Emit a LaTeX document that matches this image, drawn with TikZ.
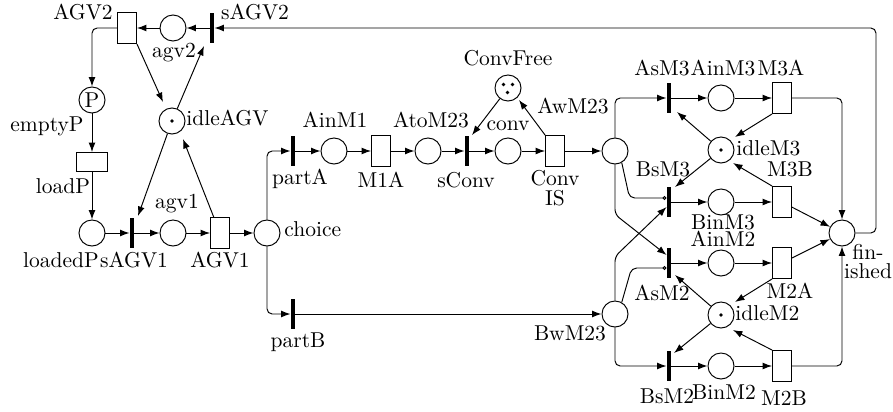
\documentclass[tikz,border=0pt]{standalone}
\usetikzlibrary{arrows.meta,calc}
\begin{document}
\begin{tikzpicture}[x=0.465pt,y=-0.465pt,
  place/.style={circle,draw,line width=0.45pt,minimum size=12.1pt,inner sep=0pt},
  imm/.style={rectangle,fill=black,minimum width=1.9pt,minimum height=14.4pt,inner sep=0pt},
  timed/.style={rectangle,draw,line width=0.45pt,minimum width=8.8pt,minimum height=14.4pt,inner sep=0pt},
  timedh/.style={timed,minimum width=14.4pt,minimum height=8.8pt},
  lbl/.style={anchor=base,inner sep=0pt},
  lblw/.style={anchor=base west,inner sep=0pt},
  pnarc/.style={-{Latex[length=4.4pt,width=3.2pt]},line width=0.45pt},
  inh/.style={-{Circle[open,length=1.8pt,width=1.8pt]},line width=0.45pt},
  rc/.style={rounded corners=2.4pt}
]
\useasboundingbox (0,0) rectangle (893,411);
% places / transitions
\node[timed] (AGV2) at (127,28) {};
\node[place] (agv2) at (173,28) {};
\node[imm] (sAGV2) at (212,28) {};
\node[place] (emptyP) at (92,100) {P};
\node[place] (idleAGV) at (172,121) {};
\node[timedh] (loadP) at (92,162) {};
\node[place] (loadedP) at (92,233) {};
\node[imm] (sAGV1) at (132,233) {};
\node[place] (agv1) at (173,233) {};
\node[timed] (AGV1) at (220,233) {};
\node[place] (choice) at (267,233) {};
\node[imm] (partA) at (293,151) {};
\node[place] (AinM1) at (334,151) {};
\node[timed] (M1A) at (381,151) {};
\node[place] (AtoM23) at (428,151) {};
\node[imm] (sConv) at (467,151) {};
\node[place] (conv) at (508,151) {};
\node[place] (ConvFree) at (508,88) {};
\node[timed] (ConvIS) at (555,151) {};
\node[place] (AwM23) at (615,151) {};
\node[imm] (partB) at (293,314) {};
\node[place] (BwM23) at (615,314) {};
\node[imm] (AsM3) at (669,98) {};
\node[place] (AinM3) at (721,98) {};
\node[timed] (M3A) at (782,98) {};
\node[place] (idleM3) at (721,150) {};
\node[imm] (BsM3) at (669,202) {};
\node[place] (BinM3) at (721,202) {};
\node[timed] (M3B) at (782,202) {};
\node[place] (finished) at (842,233) {};
\node[imm] (AsM2) at (669,263) {};
\node[place] (AinM2) at (721,263) {};
\node[timed] (M2A) at (782,263) {};
\node[place] (idleM2) at (721,315) {};
\node[imm] (BsM2) at (669,366) {};
\node[place] (BinM2) at (721,366) {};
\node[timed] (M2B) at (782,366) {};
\coordinate (cTR) at (876,28);
% tokens
\fill (idleAGV) circle[radius=0.85pt];
\fill (idleM3) circle[radius=0.85pt];
\fill (idleM2) circle[radius=0.85pt];
\fill ($(ConvFree)+(-4.5,-3.5)$) circle[radius=0.85pt];
\fill ($(ConvFree)+(4.5,-3.5)$) circle[radius=0.85pt];
\fill ($(ConvFree)+(-0.5,4.5)$) circle[radius=0.85pt];
% labels
\node[lbl] (lAGV2) at (83,19) {AGV2};
\node[lbl] (lsAGV2) at (255,19) {sAGV2};
\node[lbl] (lagv2) at (174,57) {agv2};
\node[lbl] (lemptyP) at (47,131) {emptyP};
\node[lblw] (lidleAGV) at (186,125) {idleAGV};
\node[lbl] (lloadP) at (63,193) {loadP};
\node[lbl] (lagv1) at (177,208) {agv1};
\node[lbl] (lloadedP) at (61,267) {loadedP};
\node[lbl] (lsAGV1) at (134,267) {sAGV1};
\node[lbl] (lAGV1) at (220,267) {AGV1};
\node[lblw] (lchoice) at (284,236) {choice};
\node[lbl] (lAinM1) at (335,127) {AinM1};
\node[lbl] (lAtoM23) at (431,127) {AtoM23};
\node[lbl] (lconv) at (508,130) {conv};
\node[lbl] (lConvFree) at (508,66) {ConvFree};
\node[lbl] (lAwM23) at (573,113) {AwM23};
\node[lbl] (lpartA) at (300,184) {partA};
\node[lbl] (lM1A) at (381,187) {M1A};
\node[lbl] (lsConv) at (466,187) {sConv};
\node[lbl] (lConv) at (555,185) {Conv};
\node[lbl] (lIS) at (555,205) {IS};
\node[lbl] (lAsM3) at (662,75) {AsM3};
\node[lbl] (lAinM3) at (723,75) {AinM3};
\node[lbl] (lM3A) at (781,75) {M3A};
\node[lblw] (lidleM3) at (736,155) {idleM3};
\node[lbl] (lBsM3) at (663,176) {BsM3};
\node[lbl] (lM3B) at (790,176) {M3B};
\node[lbl] (lBinM3) at (723,229) {BinM3};
\node[lbl] (lAinM2) at (723,246) {AinM2};
\node[lbl] (lfin) at (868,259) {fin-};
\node[lbl] (lished) at (868,278) {ished};
\node[lbl] (lAsM2) at (662,300) {AsM2};
\node[lbl] (lM2A) at (790,298) {M2A};
\node[lblw] (lidleM2) at (735,320) {idleM2};
\node[lbl] (lBwM23) at (570,340) {BwM23};
\node[lbl] (lpartB) at (298,347) {partB};
\node[lbl] (lBsM2) at (667,403) {BsM2};
\node[lbl] (lBinM2) at (724,399) {BinM2};
\node[lbl] (lM2B) at (784,405) {M2B};
% arcs: AGV part
\draw[pnarc] (sAGV2) -- (agv2);
\draw[pnarc] (agv2) -- (AGV2);
\draw[pnarc,rc] (AGV2) -| (emptyP);
\draw[pnarc] (emptyP) -- (loadP);
\draw[pnarc] (loadP) -- (loadedP);
\draw[pnarc] (loadedP) -- (sAGV1);
\draw[pnarc] (sAGV1) -- (agv1);
\draw[pnarc] (agv1) -- (AGV1);
\draw[pnarc] (AGV1) -- (choice);
\draw[pnarc] (AGV2.south east) -- ($(idleAGV)+(-9,-19)$);
\draw[pnarc] (idleAGV) -- ($(sAGV2)+(-8,18)$);
\draw[pnarc] (idleAGV) -- ($(sAGV1)+(6,-17)$);
\draw[pnarc] (AGV1) -- ($(idleAGV)+(11,18)$);
% middle
\draw[pnarc,rc] (choice) |- (partA);
\draw[pnarc,rc] (choice) |- (partB);
\draw[pnarc] (partA) -- (AinM1);
\draw[pnarc] (AinM1) -- (M1A);
\draw[pnarc] (M1A) -- (AtoM23);
\draw[pnarc] (AtoM23) -- (sConv);
\draw[pnarc] (sConv) -- (conv);
\draw[pnarc] (conv) -- (ConvIS);
\draw[pnarc] (ConvIS) -- (AwM23);
\draw[pnarc] (ConvFree) -- ($(sConv.north)+(5,0)$);
\draw[pnarc] (ConvIS.north west) -- ($(ConvFree)+(11,12)$);
\draw[pnarc] (partB) -- (BwM23);
% machine choices
\draw[pnarc,rc] (AwM23) |- (AsM3);
\draw[inh,rc] (AwM23.-60) -- ($(BsM3.west)+(-37,-4)$) -- ($(BsM3.west)+(0,-4)$);
\draw[pnarc,rc] (AwM23.south) -- ($(AwM23.south)+(0,50)$) -- ($(AsM2.west)+(0,-8)$);
\draw[pnarc,rc] (BwM23.north) -- ($(BwM23.north)+(0,-44)$) -- ($(BsM3.west)+(0,5)$);
\draw[inh,rc] (BwM23.60) -- ($(AsM2.west)+(-35,5)$) -- ($(AsM2.west)+(0,5)$);
\draw[pnarc,rc] (BwM23) |- (BsM2);
% machines
\draw[pnarc] (AsM3) -- (AinM3);
\draw[pnarc] (AinM3) -- (M3A);
\draw[pnarc] (BsM3) -- (BinM3);
\draw[pnarc] (BinM3) -- (M3B);
\draw[pnarc] (AsM2) -- (AinM2);
\draw[pnarc] (AinM2) -- (M2A);
\draw[pnarc] (BsM2) -- (BinM2);
\draw[pnarc] (BinM2) -- (M2B);
\draw[pnarc] (idleM3) -- ($(AsM3)+(8,14)$);
\draw[pnarc] (idleM3) -- ($(BsM3)+(6,-15)$);
\draw[pnarc] (M3A.south west) -- ($(idleM3)+(14,-13)$);
\draw[pnarc] (M3B.north west) -- ($(idleM3)+(12,13)$);
\draw[pnarc] (idleM2) -- ($(AsM2)+(6,12)$);
\draw[pnarc] (idleM2) -- ($(BsM2)+(5,-13)$);
\draw[pnarc] (M2A.south west) -- ($(idleM2)+(14,-13)$);
\draw[pnarc] (M2B.north west) -- ($(idleM2)+(12,15)$);
\draw[pnarc,rc] (M3A) -| (finished);
\draw[pnarc] (M3B) -- (finished);
\draw[pnarc] (M2A) -- (finished);
\draw[pnarc,rc] (M2B) -| (finished);
\draw[pnarc,rc] (finished) -| (cTR) -- (sAGV2);
\end{tikzpicture}
\end{document}
